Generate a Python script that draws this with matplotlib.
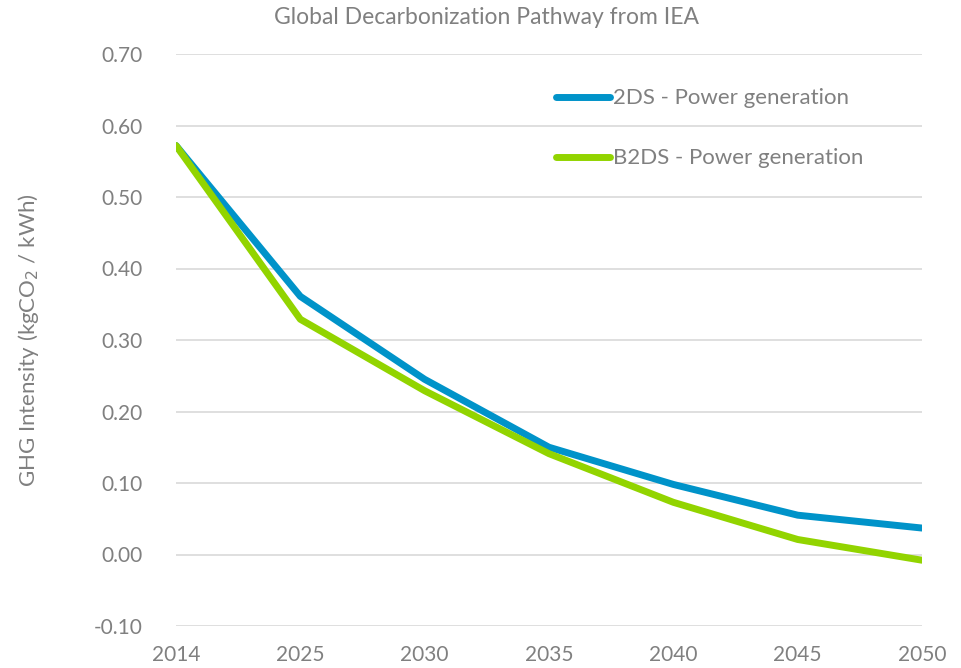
import matplotlib.pyplot as plt

years = ["2014", "2025", "2030", "2035", "2040", "2045", "2050"]
ds2 = [0.572, 0.361, 0.245, 0.150, 0.098, 0.055, 0.037]
b2ds = [0.572, 0.329, 0.229, 0.141, 0.073, 0.021, -0.008]
yticks = [-0.10, 0.00, 0.10, 0.20, 0.30, 0.40, 0.50, 0.60, 0.70]

grey = "#808080"
plt.rcParams["font.family"] = ["Lato", "DejaVu Sans"]

fig = plt.figure(figsize=(9.61, 6.68), dpi=100)
ax = fig.add_axes([176 / 961, 1 - 626 / 668, (922 - 176) / 961, (626 - 54) / 668])

x = range(len(years))
ax.plot(x, ds2, color="#0093C9", lw=5, solid_capstyle="round", label="2DS - Power generation", zorder=3)
ax.plot(x, b2ds, color="#92D400", lw=5, solid_capstyle="round", label="B2DS - Power generation", zorder=3)

ax.set_xlim(0, len(years) - 1)
ax.set_ylim(-0.10, 0.70)
ax.set_xticks(list(x))
ax.set_xticklabels(years)
ax.set_yticks(yticks)
ax.set_yticklabels([f"{v:.2f}" for v in yticks])
ax.tick_params(length=0, labelsize=15, colors=grey)
ax.tick_params(axis="x", pad=14)
ax.tick_params(axis="y", pad=24)
ax.grid(axis="y", color="#D9D9D9", lw=1.2)
ax.set_axisbelow(True)
for s in ax.spines.values():
    s.set_visible(False)

ax.set_ylabel("GHG Intensity (kgCO$_2$ / kWh)", fontsize=16, color=grey, labelpad=38)
fig.text(487 / 961, 1 - 17 / 668, "Global Decarbonization Pathway from IEA", ha="center", va="center",
         fontsize=16.5, color=grey)

leg = ax.legend(loc="upper left", bbox_to_anchor=(0.483, 0.975), frameon=False, fontsize=16,
                labelcolor=grey, handlelength=2.4, handletextpad=0.15, labelspacing=1.8)

fig.savefig("out.png", dpi=100)
